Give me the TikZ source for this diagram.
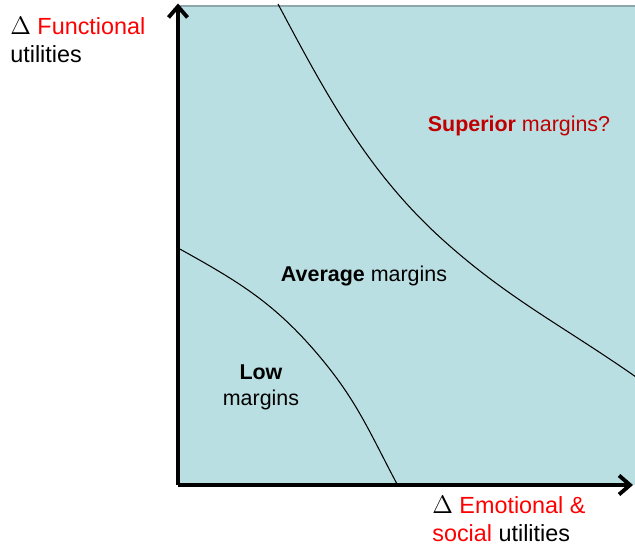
\documentclass[tikz,border=0pt]{standalone}
\usepackage{fontspec}
\setmainfont{Liberation Sans}
\usepackage{tikz}
\usetikzlibrary{arrows.meta}
\definecolor{pane}{RGB}{186,223,226}
\definecolor{paneedge}{RGB}{140,168,170}
\definecolor{axred}{RGB}{255,0,0}
\definecolor{supred}{RGB}{192,0,0}
\tikzset{
  ax/.style={-{Straight Barb[length=2.2mm,width=3.8mm,line width=2.2pt]},line width=2.3pt,draw=black},
  crv/.style={draw=black,line width=.6pt},
  lb/.style={font=\fontsize{12.2}{15.5}\selectfont,inner sep=0pt},
  albl/.style={font=\fontsize{13.3}{16.5}\selectfont,inner sep=0pt,align=left},
}
\begin{document}
\begin{tikzpicture}
\useasboundingbox (0,0) rectangle (12.7,10.94);
\coordinate (O) at (3.56,1.24);
\coordinate (ytop) at (3.56,10.87);
\coordinate (xend) at (12.66,1.24);
\fill[pane] (O) rectangle (12.75,10.82);
\draw[paneedge,line width=1.3pt] (3.56,10.82) -- (12.75,10.82);
% the two iso-margin lines
\draw[crv] (5.56,10.86) to[out=-62,in=138,looseness=.9] (8.86,6.14)
  to[out=-42,in=145,looseness=.95] (12.72,3.40);
\draw[crv] (3.56,5.98) to[out=-29,in=130] (6.40,3.80)
  to[out=-50,in=118] (7.94,1.26);
\draw[ax] (O) -- (ytop);
\draw[ax] (O) -- (xend);
\node[lb,anchor=base,text=supred] (sup) at (10.38,8.30) {\textbf{Superior} margins?};
\node[lb,anchor=base] (avg) at (7.28,5.30) {\textbf{Average} margins};
\node[lb,anchor=base] (low) at (5.22,3.35) {\textbf{Low}};
\node[lb,anchor=base] (lowm) at (5.22,2.82) {margins};
\node[albl,anchor=base west] (fun) at (0.2,10.24) {$\Delta$ \textcolor{axred}{Functional}};
\node[albl,anchor=base west] (funu) at (0.2,9.68) {utilities};
\node[albl,anchor=base west] (emo) at (8.64,0.66) {$\Delta$ \textcolor{axred}{Emotional \&}};
\node[albl,anchor=base west] (emou) at (8.64,0.10) {\textcolor{axred}{social} utilities};
\end{tikzpicture}
\end{document}
